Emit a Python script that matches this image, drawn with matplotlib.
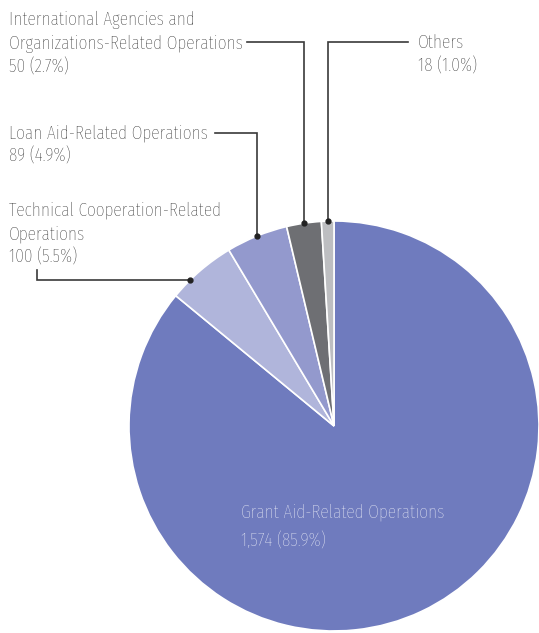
import numpy as np
import matplotlib
matplotlib.use('Agg')
import matplotlib.pyplot as plt

# data
labels = ['Grant Aid-Related Operations',
          'Technical Cooperation-Related\nOperations',
          'Loan Aid-Related Operations',
          'International Agencies and\nOrganizations-Related Operations',
          'Others']
values = [1574, 100, 89, 50, 18]
shares = [85.9, 5.5, 4.9, 2.7, 1.0]
colors = ['#6f7bbe', '#b0b5db', '#9399cd', '#6e6f73', '#bdbec1']

W, H = 539, 633
font = ['Fira Sans Extra Condensed', 'Fira Sans Condensed', 'DejaVu Sans']
tc = '#1e1e1e'

fig = plt.figure(figsize=(W / 100, H / 100), dpi=100)
ax = fig.add_axes([0, 0, 1, 1])

cx, cy, r = 334, H - 426, 205
wedges, _ = ax.pie(values, colors=colors, startangle=90, counterclock=False,
                   center=(cx, cy), radius=r,
                   wedgeprops=dict(edgecolor='white', linewidth=1.2))
ax.set_xlim(0, W)
ax.set_ylim(0, H)
ax.axis('off')

def text_block(x, ybase, lines, color=tc, step=24, size=13.7):
    for i, s in enumerate(lines):
        ax.text(x, H - ybase - i * step, s, ha='left', va='baseline',
                fontsize=size, family=font, weight='light', color=color)

def block_lines(i):
    v = f'{values[i]:,} ({shares[i]:.1f}%)'
    return labels[i].split('\n') + [v]

# label inside the big slice
text_block(241, 517, block_lines(0), color='#f4f5fb', step=30)

# labels outside, baseline of first line
text_block(9, 25, block_lines(3))
text_block(418, 48, block_lines(4))
text_block(9, 138, block_lines(2))
text_block(9, 215, block_lines(1))

# leader lines: where on the wedge the dot sits, and the elbow route
dot_frac = {1: 0.7, 2: 0.5, 3: 0.5, 4: 0.5}
routes = {3: ('up', 42, 247), 4: ('up', 42, 408), 2: ('up', 133, 215),
          1: ('left', 37, 270)}
for i, (mode, a, b) in routes.items():
    w = wedges[i]
    ang = np.deg2rad(w.theta1 + (w.theta2 - w.theta1) * dot_frac[i])
    dx = cx + r * np.cos(ang)
    dy = cy + r * np.sin(ang)
    if mode == 'up':
        xs, ys = [dx, dx, b], [dy, H - a, H - a]
    else:
        xs, ys = [dx, a, a], [dy, dy, H - b]
    ax.plot(xs, ys, color='#3a3a3a', lw=1.2, solid_joinstyle='miter')
    ax.plot(dx, dy, 'o', color='#222222', ms=3.5)

fig.savefig('out.png', dpi=100)
